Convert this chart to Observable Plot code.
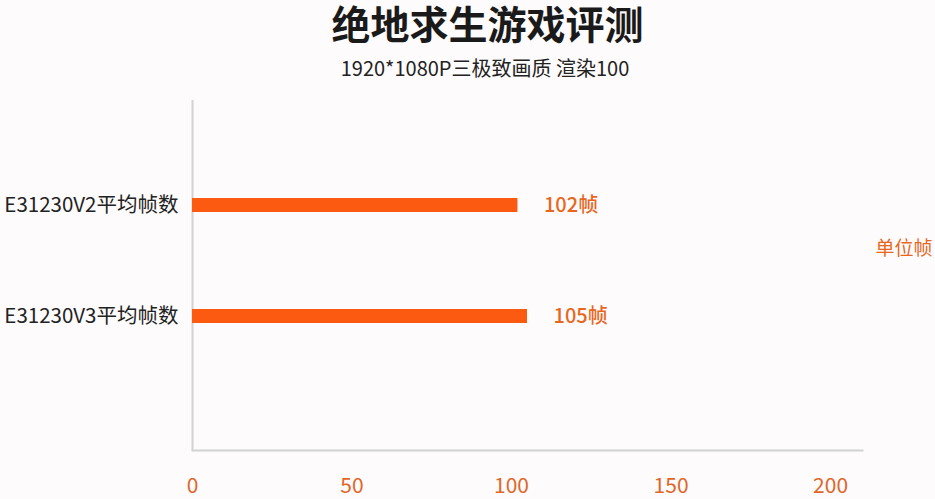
<!DOCTYPE html>
<html>
<head>
<meta charset="utf-8">
<script src="https://cdn.jsdelivr.net/npm/d3@7"></script>
<script src="https://cdn.jsdelivr.net/npm/@observablehq/plot@0.6"></script>
<style>
  html, body { margin: 0; padding: 0; background: #fdfbfb; }
  body { width: 935px; height: 499px; overflow: hidden; font-family: "Noto Sans CJK SC", "Noto Sans", sans-serif; }
  #header { height: 90px; position: relative; }
  #title { position: absolute; left: 0; width: 935px; box-sizing: border-box; padding-left: 40px; top: 0; height: 44px; line-height: 44px; text-align: center; font-size: 39px; font-weight: 700; color: #1a1a1a; }
  #subtitle { position: absolute; left: 0; width: 935px; box-sizing: border-box; padding-left: 35px; top: 56px; height: 24px; line-height: 24px; text-align: center; font-size: 20px; color: #222; }
  #chart svg { display: block; background: transparent; }
</style>
</head>
<body>
<div id="header">
  <div id="title">绝地求生游戏评测</div>
  <div id="subtitle">1920*1080P三极致画质 渲染100</div>
</div>
<div id="chart"></div>
<script>
const categories = ["E31230V2平均帧数", "E31230V3平均帧数"];
const fps = [102, 105];
const valueLabels = ["102帧", "105帧"];
const xTicks = [0, 50, 100, 150, 200];
const unitLabel = "单位帧";

const data = categories.map((c, i) => ({ name: c, fps: fps[i], label: valueLabels[i] }));

const chart = Plot.plot({
  width: 935,
  height: 409,
  marginLeft: 192,
  marginRight: 73,
  marginTop: 10,
  marginBottom: 49,
  style: { background: "transparent", fontFamily: "'Noto Sans CJK SC', 'Noto Sans', sans-serif" },
  x: { domain: [0, 210], ticks: xTicks, label: null },
  y: { domain: categories, range: [108, 233], paddingInner: 0.874, paddingOuter: 0, label: null },
  marks: [
    Plot.ruleX([0], { stroke: "#d2d2d2", strokeWidth: 2 }),
    Plot.frame({ anchor: "bottom", stroke: "#d2d2d2", strokeWidth: 2 }),
    Plot.barX(data, { x: "fps", y: "name", fill: "#fc5a10" }),
    Plot.text(data, { x: "fps", y: "name", text: "label", dx: 26, textAnchor: "start", fill: "#e8671f", fontSize: 20, fontWeight: 500 }),
    Plot.text([unitLabel], { frameAnchor: "right", text: d => d, dx: 13, dy: -27, textAnchor: "start", fill: "#e8671f", fontSize: 19 }),
    Plot.axisY({ tickSize: 0, tickPadding: 14, fontSize: 20.5, fill: "#222", label: null }),
    Plot.axisX({ ticks: xTicks, tickSize: 0, tickPadding: 28, fontSize: 21, fill: "#e0662a", label: null })
  ]
});
document.getElementById("chart").appendChild(chart);
</script>
</body>
</html>
